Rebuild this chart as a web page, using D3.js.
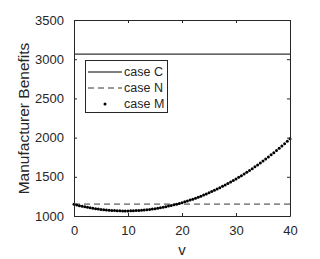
<!DOCTYPE html>
<html>
<head>
<script src="https://d3js.org/d3.v7.min.js"></script>
<style>
body {margin:0; background:#fff;}
text {font-family: "Liberation Sans", Arial, sans-serif; fill:#262626;}
</style>
</head>
<body>
<script>
// data
var vValues = [0,0.5,1,1.5,2,2.5,3,3.5,4,4.5,5,5.5,6,6.5,7,7.5,8,8.5,9,9.5,10,10.5,11,11.5,12,12.5,13,13.5,14,14.5,15,15.5,16,16.5,17,17.5,18,18.5,19,19.5,20,20.5,21,21.5,22,22.5,23,23.5,24,24.5,25,25.5,26,26.5,27,27.5,28,28.5,29,29.5,30,30.5,31,31.5,32,32.5,33,33.5,34,34.5,35,35.5,36,36.5,37,37.5,38,38.5,39,39.5,40];
var caseM = [1149,1140,1132,1124,1117,1111,1104,1099,1093,1088,1084,1080,1077,1074,1071,1069,1067,1066,1065,1065,1065,1066,1067,1069,1071,1074,1077,1080,1084,1089,1094,1099,1105,1112,1119,1126,1134,1142,1151,1161,1170,1181,1192,1203,1215,1227,1240,1253,1267,1282,1296,1312,1328,1344,1361,1378,1396,1415,1434,1453,1473,1493,1514,1536,1558,1581,1604,1627,1651,1676,1701,1727,1753,1780,1807,1835,1863,1892,1922,1952,1985];
var caseC = 3065;
var caseN = 1152;
var xTicks = [0,10,20,30,40];
var yTicks = [1000,1500,2000,2500,3000,3500];
var legendLabels = ["case C","case N","case M"];

var width = 320, height = 259;
var mLeft = 74, mRight = 290, mTop = 20, mBottom = 216;

var svg = d3.select("body").append("svg")
  .attr("width", width).attr("height", height);

var x = d3.scaleLinear().domain([0,40]).range([mLeft,mRight]);
var y = d3.scaleLinear().domain([1000,3500]).range([mBottom,mTop]);

var ink = "#262626";

// case C
svg.append("line")
  .attr("x1", x(0)).attr("x2", x(40))
  .attr("y1", y(caseC)).attr("y2", y(caseC))
  .attr("stroke","#000").attr("stroke-width",1);

// case N dashed
svg.append("line")
  .attr("x1", x(0)).attr("x2", x(40))
  .attr("y1", y(caseN)).attr("y2", y(caseN))
  .attr("stroke","#000").attr("stroke-width",0.8)
  .attr("stroke-dasharray","6,4");

// case M dots
svg.append("g").selectAll("circle")
  .data(vValues)
  .enter().append("circle")
  .attr("cx", function(d){ return x(d); })
  .attr("cy", function(d,i){ return y(caseM[i]); })
  .attr("r", 1.5)
  .attr("fill","#000");

// axes box with inward ticks
var axB = d3.axisBottom(x).tickValues(xTicks).tickSizeInner(-3).tickSizeOuter(0).tickPadding(10);
var axT = d3.axisTop(x).tickValues(xTicks).tickSizeInner(-3).tickSizeOuter(0).tickFormat("");
var axL = d3.axisLeft(y).tickValues(yTicks).tickSizeInner(-3).tickSizeOuter(0).tickPadding(10).tickFormat(d3.format("d"));
var axR = d3.axisRight(y).tickValues(yTicks).tickSizeInner(-3).tickSizeOuter(0).tickFormat("");

svg.append("g").attr("transform","translate(0,"+mBottom+")").call(axB);
svg.append("g").attr("transform","translate(0,"+mTop+")").call(axT);
svg.append("g").attr("transform","translate("+mLeft+",0)").call(axL);
svg.append("g").attr("transform","translate("+mRight+",0)").call(axR);

svg.selectAll(".domain").attr("stroke",ink).attr("stroke-width",1);
svg.selectAll(".tick line").attr("stroke",ink);
svg.selectAll(".tick text").style("font-size","13px").attr("fill",ink)
  .style("font-family","'Liberation Sans', Arial, sans-serif");

// axis labels
svg.append("text")
  .attr("x", (mLeft+mRight)/2).attr("y", 255)
  .attr("text-anchor","middle").style("font-size","15px")
  .text("v");
svg.append("text")
  .attr("transform","translate(29,118.5) rotate(-90)")
  .attr("text-anchor","middle").style("font-size","15.5px")
  .text("Manufacturer Benefits");

// legend
var lg = svg.append("g");
lg.append("rect")
  .attr("x",85.5).attr("y",60.5).attr("width",82).attr("height",52)
  .attr("fill","#fff").attr("stroke",ink).attr("stroke-width",1);
var rowY = [72,88,104];
lg.append("line").attr("x1",88).attr("x2",122).attr("y1",rowY[0]).attr("y2",rowY[0])
  .attr("stroke","#000");
lg.append("line").attr("x1",88).attr("x2",122).attr("y1",rowY[1]).attr("y2",rowY[1])
  .attr("stroke","#000").attr("stroke-width",0.8).attr("stroke-dasharray","6,4");
lg.append("circle").attr("cx",105).attr("cy",rowY[2]).attr("r",1.5).attr("fill","#000");
lg.selectAll("text.lab").data(legendLabels).enter().append("text")
  .attr("class","lab")
  .attr("x",124).attr("y",function(d,i){ return rowY[i]; })
  .attr("dy","0.35em").style("font-size","12.5px")
  .text(function(d){ return d; });
</script>
</body>
</html>
